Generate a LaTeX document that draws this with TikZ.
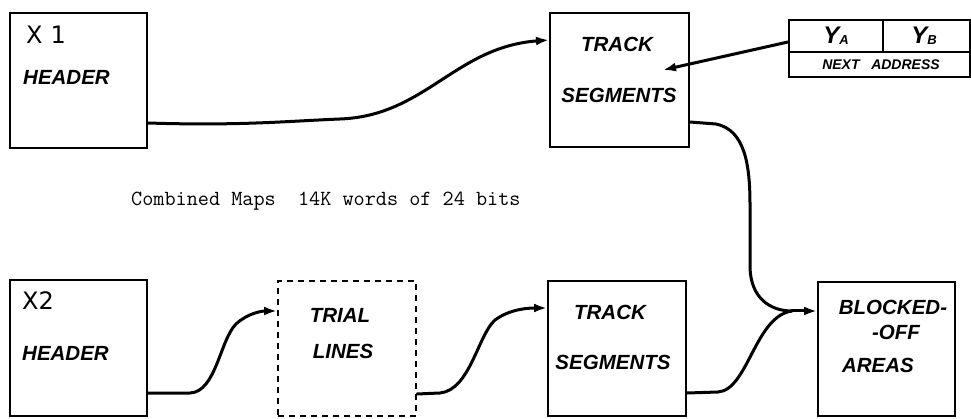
\documentclass[tikz,border=0pt]{standalone}
\usepackage{fontspec}
\setmainfont{Liberation Sans}
\newfontfamily\handfont{Liberation Sans}
\newfontfamily\idfont{DejaVu Sans}
\usetikzlibrary{arrows.meta}
\begin{document}
\begin{tikzpicture}[x=1pt,y=-1pt,
  box/.style={draw, line width=2pt, inner sep=0pt, minimum width=137pt, minimum height=135pt},
  dashbox/.style={box, dash pattern=on 6pt off 5pt},
  cell/.style={draw, line width=2pt, inner sep=0pt},
  hand/.style={inner sep=0pt, font=\handfont\bfseries\itshape\fontsize{20.5}{22}\selectfont},
  smallhand/.style={inner sep=0pt, font=\handfont\bfseries\itshape\fontsize{14}{16}\selectfont},
  idlabel/.style={inner sep=0pt, font=\idfont\fontsize{24}{26}\selectfont},
  conn/.style={line width=3pt, line cap=round, -{Latex[length=13pt,width=9pt]}},
  plain/.style={line width=3pt, line cap=round}]
\useasboundingbox (0,0) rectangle (971,419);

% upper row
\node[box] (x1) at (78.5,80.5) {};
\node[box, minimum width=139pt, minimum height=134pt] (t1) at (619.5,80) {};

% record layout: YA | YB over NEXT ADDRESS
\node[cell, minimum width=94pt, minimum height=32pt] (ya) at (836,36) {};
\node[cell, minimum width=87pt, minimum height=32pt] (yb) at (926.5,36) {};
\node[cell, minimum width=181pt, minimum height=25pt] (next) at (879.5,64.5) {};

% lower row
\node[box, minimum height=136pt] (x2) at (78.5,348) {};
\node[dashbox, minimum width=138pt] (trial) at (347,348.5) {};
\node[box, minimum width=138pt] (t2) at (617,348.5) {};
\node[box, minimum height=134pt] (blk) at (886.5,349) {};

% labels
\node[idlabel, anchor=west] (x1lbl) at (26,35) {X\,\,1};
\node[hand, anchor=west] (x1hd) at (23,77) {HEADER};
\node[hand] (t1a) at (617,44) {TRACK};
\node[hand] (t1b) at (619,95) {SEGMENTS};
\node[inner sep=0pt, font=\handfont\bfseries\itshape\fontsize{24}{26}\selectfont] (yalbl) at (836,36) {Y\raisebox{-1pt}{\fontsize{13}{14}\selectfont A}};
\node[inner sep=0pt, font=\handfont\bfseries\itshape\fontsize{24}{26}\selectfont] (yblbl) at (924,36) {Y\raisebox{-1pt}{\fontsize{13}{14}\selectfont B}};
\node[smallhand] (nextlbl) at (881,65) {NEXT\ \ \ ADDRESS};

\node[idlabel, anchor=west] (x2lbl) at (22,301) {X2};
\node[hand, anchor=west] (x2hd) at (22,353) {HEADER};
\node[hand] (tra) at (340,315) {TRIAL};
\node[hand] (trb) at (343,351) {LINES};
\node[hand] (t2a) at (610,312) {TRACK};
\node[hand] (t2b) at (613,362) {SEGMENTS};
\node[hand] (bka) at (893,307) {BLOCKED-};
\node[hand] (bkb) at (896,332) {-OFF};
\node[hand] (bkc) at (878,365) {AREAS};

\node[anchor=base west, inner sep=0pt, font=\ttfamily\fontsize{21.6}{23}\selectfont] (caption) at (131,206) {Combined Maps\ \ 14K words of 24 bits};

% connectors
\coordinate (t1tip) at (663,70);
\coordinate (join) at (792,311);

\draw[conn] ([yshift=-42.5pt]x1.east) .. controls (240,126) and (290,121) .. (340,119)
  .. controls (425,116) and (455,47) .. ([yshift=40pt]t1.west);
\draw[conn] ([yshift=-6pt]ya.west) -- (t1tip);
\draw[plain] ([yshift=-42pt]t1.east) -- (716,124) .. controls (745,130) and (750,165) .. (750,205)
  -- (750,268) .. controls (751,298) and (770,311) .. (join);
\draw[plain] ([yshift=-44.5pt]t2.east) -- (718,392) .. controls (748,390) and (755,316) .. (join);
\draw[conn] (join) -- ([yshift=38pt]blk.west);
\draw[conn] ([yshift=-45pt]x2.east) -- (190,393) .. controls (216,392) and (220,340) .. (236,324)
  .. controls (248,313) and (262,311) .. ([yshift=37.5pt]trial.west);
\draw[conn] ([yshift=-45.5pt]trial.east) -- (440,393) .. controls (470,390) and (478,335) .. (495,320)
  .. controls (510,309) and (528,308) .. ([yshift=40.5pt]t2.west);
\end{tikzpicture}
\end{document}
